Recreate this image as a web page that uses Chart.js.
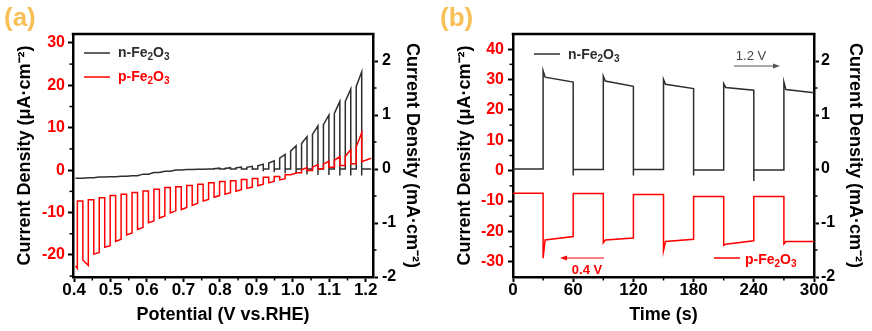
<!DOCTYPE html>
<html>
<head>
<meta charset="utf-8">
<title>n-Fe2O3 / p-Fe2O3 photocurrent</title>
<script src="https://cdn.jsdelivr.net/npm/chart.js@4.4.1/dist/chart.umd.min.js"></script>
<style>
  body { margin: 0; background: #fff; }
  #wrap { position: relative; width: 872px; height: 331px; }
  canvas { position: absolute; top: 0; }
</style>
</head>
<body>
<div id="wrap">
  <canvas id="chartA" width="436" height="331" style="left:0"></canvas>
  <canvas id="chartB" width="436" height="331" style="left:436px"></canvas>
</div>
<script>
const FONT = "'Liberation Sans', Arial, Helvetica, sans-serif";
const RED = '#ff0000';
const DARK = '#2e2e2e';
const GOLD = '#f7bf55';

// ---- (a) chopped LSV, potential in V vs. RHE ----
const chopOn  = [0.404, 0.424, 0.454, 0.484, 0.514, 0.544, 0.574, 0.604, 0.634, 0.664, 0.694, 0.724, 0.754, 0.784, 0.814, 0.844, 0.874, 0.904, 0.934, 0.964, 0.994, 1.024, 1.054, 1.084, 1.114, 1.144, 1.174];
const chopOff = [0.409, 0.439, 0.469, 0.499, 0.529, 0.559, 0.589, 0.619, 0.649, 0.679, 0.709, 0.739, 0.769, 0.799, 0.829, 0.859, 0.889, 0.919, 0.949, 0.979, 1.009, 1.039, 1.069, 1.099, 1.129, 1.159, 1.189];
const lsvEnd = 1.215;

// p-Fe2O3 in uA cm-2 (left axis)
const pLightStart = [-22.6, -21.2, -19.8, -18.2, -16.8, -15.3, -14.0, -12.4, -11.3, -10.1, -9.3, -8.3, -7.3, -6.4, -5.7, -5.0, -4.3, -3.7, -3.0, -2.3, -1.1, 0.1, 0.7, 1.4, 2.3, 3.3, 5.5];
const pLightEnd   = [-23.2, -22.5, -19.4, -17.8, -16.3, -14.8, -13.5, -12.0, -10.8, -9.6, -8.8, -7.8, -6.9, -6.0, -5.3, -4.6, -4.0, -3.3, -2.6, -2.0, -0.7, 0.6, 1.3, 2.1, 3.2, 4.8, 8.8];
const pDark       = [-7.3, -7.0, -6.5, -6.0, -5.7, -5.3, -4.9, -4.5, -4.1, -3.9, -3.6, -3.3, -3.0, -2.7, -2.5, -2.2, -2.0, -1.7, -1.5, -1.1, -0.6, -0.1, 0.3, 0.7, 1.1, 1.5, 2.0];
const pLast = 2.8;

// n-Fe2O3 in mA cm-2 (right axis)
const nLightStart = [-0.17, -0.17, -0.16, -0.15, -0.145, -0.135, -0.125, -0.095, -0.065, -0.04, -0.02, -0.01, -0.005, 0.005, 0.01, 0.02, 0.03, 0.06, 0.11, 0.2, 0.33, 0.47, 0.64, 0.82, 1.03, 1.25, 1.53];
const nLightEnd   = [-0.17, -0.16, -0.15, -0.145, -0.135, -0.125, -0.095, -0.065, -0.04, -0.02, -0.01, -0.005, 0, 0.015, 0.025, 0.035, 0.05, 0.09, 0.15, 0.27, 0.43, 0.6, 0.8, 1.0, 1.25, 1.48, 1.8];
const nOffDip     = [-0.17, -0.16, -0.15, -0.145, -0.135, -0.125, -0.095, -0.065, -0.04, -0.02, -0.01, -0.005, 0, 0, 0, 0, -0.02, -0.04, -0.06, -0.08, -0.09, -0.1, -0.11, -0.11, -0.12, -0.12, -0.12];
const nDark       = [-0.17, -0.16, -0.15, -0.145, -0.135, -0.125, -0.095, -0.065, -0.04, -0.02, -0.01, -0.005, 0, 0, 0, 0, 0, 0, 0, 0, 0, 0, 0, 0, 0, 0, 0];
const nLast = 0.0;

const potTicks = [0.4, 0.5, 0.6, 0.7, 0.8, 0.9, 1.0, 1.1, 1.2];
const potMinor = [0.45, 0.55, 0.65, 0.75, 0.85, 0.95, 1.05, 1.15];
const aLeftTicks = [-20, -10, 0, 10, 20, 30];
const aLeftMinor = [-25, -15, -5, 5, 15, 25];

// ---- (b) chopped i-t, time in s ----
const timeOn     = [30, 90, 150, 210, 270];
const timeSettle = [32, 92, 152, 212, 272];
const timeOff    = [60, 120, 180, 240, 300];

const nbDark   = [0.0, -0.01, -0.01, -0.02, -0.02];
const nbSpike  = [1.82, 1.72, 1.66, 1.58, 1.61];
const nbSettle = [1.70, 1.63, 1.57, 1.51, 1.47];
const nbEnd    = [1.61, 1.53, 1.49, 1.46, 1.41];
const nbDip    = [-0.12, -0.12, -0.12, -0.22];

const pbDark   = [-7.4, -7.5, -7.8, -8.5, -8.5];
const pbSpike  = [-28.8, -23.7, -26.3, -24.6, -24.1];
const pbSettle = [-22.8, -22.8, -23.3, -24.2, -23.3];
const pbEnd    = [-21.7, -22.2, -22.6, -23.1, -23.3];

const timeTicks = [0, 60, 120, 180, 240, 300];
const timeMinor = [30, 90, 150, 210, 270];
const bLeftTicks = [-30, -20, -10, 0, 10, 20, 30, 40];
const bLeftMinor = [-25, -15, -5, 5, 15, 25, 35];

// right axis is the same in both panels
const rightTicks = [-2, -1, 0, 1, 2];
const rightMinor = [-1.5, -0.5, 0.5, 1.5];

// build the chopped LSV trace: light on, then dark until the next pulse
function lsvTrace(lightStart, lightEnd, dip, dark, last) {
  const pts = [];
  for (let k = 0; k < chopOff.length; k++) {
    pts.push({ x: chopOn[k], y: lightStart[k] });
    pts.push({ x: chopOff[k], y: lightEnd[k] });
    if (dip) pts.push({ x: chopOff[k], y: dip[k] });
    pts.push({ x: chopOff[k], y: dark[k] });
    if (k + 1 < chopOn.length) pts.push({ x: chopOn[k + 1], y: dark[k] });
    else pts.push({ x: lsvEnd, y: last });
  }
  return pts;
}

// build the chopped i-t trace
function itTrace(dark, spike, settle, end, dip) {
  const pts = [{ x: 0, y: dark[0] }];
  for (let k = 0; k < timeOn.length; k++) {
    pts.push({ x: timeOn[k], y: dark[k] });
    pts.push({ x: timeOn[k], y: spike[k] });
    pts.push({ x: timeSettle[k], y: settle[k] });
    pts.push({ x: timeOff[k], y: end[k] });
    if (k + 1 < timeOn.length) {
      if (dip) pts.push({ x: timeOff[k], y: dip[k] });
      pts.push({ x: timeOff[k], y: dark[k + 1] });
    }
  }
  return pts;
}

function fixedTicks(values) {
  return function (scale) { scale.ticks = values.map(v => ({ value: v })); };
}

// --- drawing helpers for the bits Chart.js does not do ---
function minorTicks(chart, id, values, side) {
  const s = chart.scales[id], a = chart.chartArea, ctx = chart.ctx;
  ctx.save();
  ctx.strokeStyle = '#000';
  ctx.lineWidth = 1.5;
  values.forEach(v => {
    const p = s.getPixelForValue(v);
    ctx.beginPath();
    if (side === 'bottom') { ctx.moveTo(p, a.bottom); ctx.lineTo(p, a.bottom + 3.5); }
    else if (side === 'left') { ctx.moveTo(a.left, p); ctx.lineTo(a.left - 3.5, p); }
    else { ctx.moveTo(a.right, p); ctx.lineTo(a.right + 3.5, p); }
    ctx.stroke();
  });
  ctx.restore();
}

function topBorder(chart) {
  const a = chart.chartArea, ctx = chart.ctx;
  ctx.save();
  ctx.strokeStyle = '#000';
  ctx.lineWidth = 2.5;
  ctx.beginPath();
  ctx.moveTo(a.left - 1.25, a.top);
  ctx.lineTo(a.right + 1.25, a.top);
  ctx.stroke();
  ctx.restore();
}

function panelLetter(ctx, text) {
  ctx.save();
  ctx.fillStyle = GOLD;
  ctx.font = 'bold 26px ' + FONT;
  ctx.textBaseline = 'middle';
  ctx.fillText(text, 4, 19);
  ctx.restore();
}

// "n-Fe2O3" with real subscripts
function formula(ctx, x, y, prefix, color, size) {
  const parts = [[prefix + 'Fe', false], ['2', true], ['O', false], ['3', true]];
  ctx.save();
  ctx.fillStyle = color;
  ctx.textBaseline = 'middle';
  let cx = x;
  parts.forEach(([t, sub]) => {
    ctx.font = 'bold ' + (sub ? Math.round(size * 0.68) : size) + 'px ' + FONT;
    ctx.fillText(t, cx, y + (sub ? size * 0.32 : 0));
    cx += ctx.measureText(t).width;
  });
  ctx.restore();
}

function hLine(ctx, x1, x2, y, color) {
  ctx.save();
  ctx.strokeStyle = color;
  ctx.lineWidth = 1.5;
  ctx.beginPath();
  ctx.moveTo(x1, y);
  ctx.lineTo(x2, y);
  ctx.stroke();
  ctx.restore();
}

function arrow(ctx, x1, x2, y, color) {
  const dir = x2 > x1 ? 1 : -1;
  ctx.save();
  ctx.strokeStyle = color;
  ctx.fillStyle = color;
  ctx.lineWidth = 1;
  ctx.beginPath();
  ctx.moveTo(x1, y);
  ctx.lineTo(x2 - dir * 6, y);
  ctx.stroke();
  ctx.beginPath();
  ctx.moveTo(x2, y);
  ctx.lineTo(x2 - dir * 7, y - 2.5);
  ctx.lineTo(x2 - dir * 7, y + 2.5);
  ctx.closePath();
  ctx.fill();
  ctx.restore();
}

function label(ctx, text, x, y, color, weight) {
  ctx.save();
  ctx.fillStyle = color;
  ctx.font = weight + ' 13px ' + FONT;
  ctx.textAlign = 'center';
  ctx.textBaseline = 'middle';
  ctx.fillText(text, x, y);
  ctx.restore();
}

// shared scale setup for one panel
function panelScales(p) {
  const tickFont = { family: FONT, size: 16, weight: 'bold' };
  const titleFont = { family: FONT, size: 18, weight: 'bold' };
  const grid = { drawOnChartArea: false, tickLength: 5, tickWidth: 2, tickColor: '#000' };
  const border = { color: '#000', width: 2.5 };
  return {
    x: {
      type: 'linear', min: p.xMin, max: p.xMax,
      afterBuildTicks: fixedTicks(p.xTicks),
      afterFit: s => { s.height = 54; },
      border: border, grid: grid,
      ticks: { color: '#000', font: { family: FONT, size: 17, weight: 'bold', lineHeight: 1 }, padding: 0, maxRotation: 0, autoSkip: false, callback: p.xFormat },
      title: { display: true, text: p.xTitle, color: '#000', font: titleFont, padding: { top: 0, bottom: 5 } }
    },
    y: {
      type: 'linear', position: 'left', min: p.yMin, max: p.yMax,
      afterBuildTicks: fixedTicks(p.yTicks),
      afterFit: s => { s.width = p.leftW; },
      border: border, grid: grid,
      ticks: { color: RED, font: tickFont, padding: p.leftPad, callback: v => String(v) },
      title: { display: true, text: 'Current Density (μA·cm⁻²)', color: '#000', font: titleFont, padding: { top: p.leftTitlePad, bottom: 0 } }
    },
    y2: {
      type: 'linear', position: 'right', min: -2, max: 2.5,
      afterBuildTicks: fixedTicks(rightTicks),
      afterFit: s => { s.width = p.rightW; },
      border: border, grid: grid,
      ticks: { color: '#000', font: tickFont, padding: p.rightPad, callback: v => String(v) },
      title: { display: true, text: 'Current Density (mA·cm⁻²)', color: '#000', font: titleFont, padding: { top: p.rightTitlePad, bottom: 0 } }
    }
  };
}

const lineStyle = { borderWidth: 1.5, pointRadius: 0, tension: 0, fill: false };

// ---------- panel (a) ----------
const decorA = {
  id: 'decorA',
  afterDraw(chart) {
    const ctx = chart.ctx, a = chart.chartArea;
    topBorder(chart);
    minorTicks(chart, 'x', potMinor, 'bottom');
    minorTicks(chart, 'y', aLeftMinor, 'left');
    minorTicks(chart, 'y2', rightMinor, 'right');
    panelLetter(ctx, '(a)');
    hLine(ctx, a.left + 11, a.left + 37, a.top + 19, DARK);
    formula(ctx, a.left + 45, a.top + 19, 'n-', DARK, 14);
    hLine(ctx, a.left + 11, a.left + 37, a.top + 43, RED);
    formula(ctx, a.left + 45, a.top + 43, 'p-', RED, 14);
  }
};

new Chart(document.getElementById('chartA'), {
  type: 'line',
  data: {
    datasets: [
      Object.assign({ label: 'p-Fe₂O₃', data: lsvTrace(pLightStart, pLightEnd, null, pDark, pLast), borderColor: RED, yAxisID: 'y' }, lineStyle),
      Object.assign({ label: 'n-Fe₂O₃', data: lsvTrace(nLightStart, nLightEnd, nOffDip, nDark, nLast), borderColor: DARK, yAxisID: 'y2' }, lineStyle)
    ]
  },
  options: {
    responsive: false,
    animation: false,
    layout: { padding: { top: 34, left: 0, right: 0, bottom: 0 } },
    plugins: { legend: { display: false }, tooltip: { enabled: false } },
    scales: panelScales({
      xMin: 0.397, xMax: 1.22, xTicks: potTicks, xTitle: 'Potential (V vs.RHE)', xFormat: v => v.toFixed(1),
      yMin: -25.2, yMax: 32.1, yTicks: aLeftTicks,
      leftW: 73, rightW: 63, leftPad: 3, rightPad: 4, leftTitlePad: 14, rightTitlePad: 13
    })
  },
  plugins: [decorA]
});

// ---------- panel (b) ----------
const decorB = {
  id: 'decorB',
  afterDraw(chart) {
    const ctx = chart.ctx, a = chart.chartArea;
    topBorder(chart);
    minorTicks(chart, 'x', timeMinor, 'bottom');
    minorTicks(chart, 'y', bLeftMinor, 'left');
    minorTicks(chart, 'y2', rightMinor, 'right');
    panelLetter(ctx, '(b)');
    hLine(ctx, a.left + 21, a.left + 47, a.top + 20, DARK);
    formula(ctx, a.left + 55, a.top + 21, 'n-', DARK, 14);
    hLine(ctx, a.left + 201, a.left + 227, a.top + 224, RED);
    formula(ctx, a.left + 232, a.top + 226, 'p-', RED, 14);
    label(ctx, '1.2 V', a.left + 238, a.top + 22, '#444', 'normal');
    arrow(ctx, a.left + 221, a.left + 267, a.top + 32, '#555');
    label(ctx, '0.4 V', a.left + 74, a.top + 236, RED, 'bold');
    arrow(ctx, a.left + 91, a.left + 47, a.top + 224, RED);
  }
};

new Chart(document.getElementById('chartB'), {
  type: 'line',
  data: {
    datasets: [
      Object.assign({ label: 'p-Fe₂O₃', data: itTrace(pbDark, pbSpike, pbSettle, pbEnd, null), borderColor: RED, yAxisID: 'y' }, lineStyle),
      Object.assign({ label: 'n-Fe₂O₃', data: itTrace(nbDark, nbSpike, nbSettle, nbEnd, nbDip), borderColor: DARK, yAxisID: 'y2' }, lineStyle)
    ]
  },
  options: {
    responsive: false,
    animation: false,
    layout: { padding: { top: 34, left: 0, right: 0, bottom: 0 } },
    plugins: { legend: { display: false }, tooltip: { enabled: false } },
    scales: panelScales({
      xMin: 0, xMax: 300, xTicks: timeTicks, xTitle: 'Time (s)', xFormat: v => String(v),
      yMin: -35, yMax: 45, yTicks: bLeftTicks,
      leftW: 77, rightW: 58, leftPad: 4, rightPad: 2, leftTitlePad: 18, rightTitlePad: 6
    })
  },
  plugins: [decorB]
});
</script>
</body>
</html>
